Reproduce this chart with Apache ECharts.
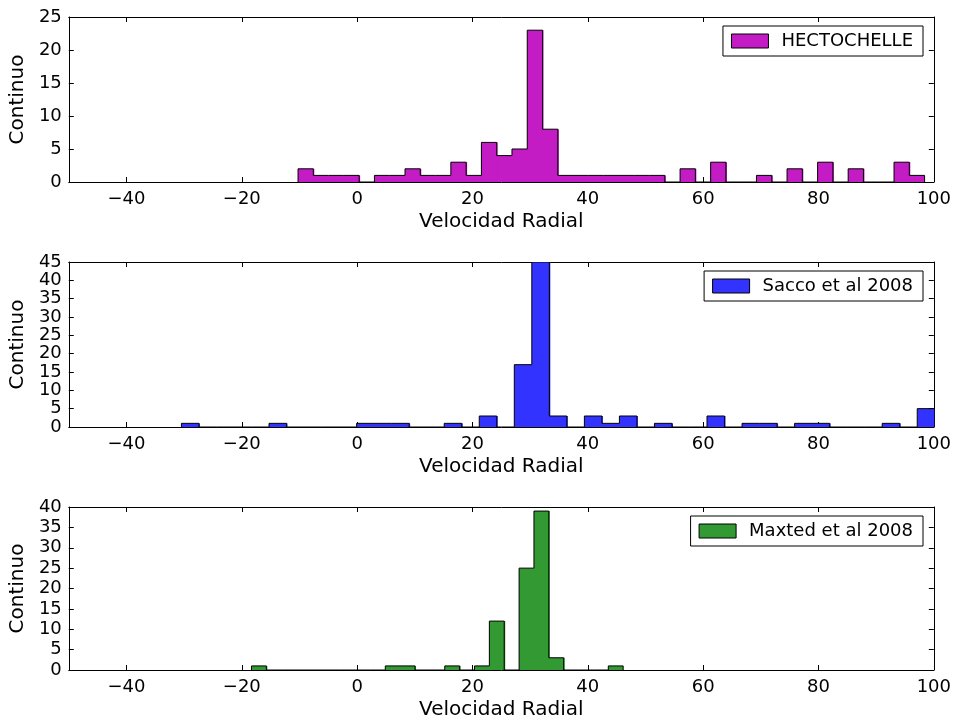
<!DOCTYPE html>
<html>
<head>
<meta charset="utf-8">
<script src="https://cdn.jsdelivr.net/npm/echarts@6/dist/echarts.min.js"></script>
<style>html,body{margin:0;padding:0;background:#fff}#c{width:954px;height:721px}</style>
</head>
<body>
<div id="c"></div>
<script>
// Histogram data (bin start, bin width, counts per bin)
const hectoName = 'HECTOCHELLE';
const hectoStart = -10.25;
const hectoWidth = 2.65;
const hectoCounts = [2,1,1,1,0,1,1,2,1,1,3,1,6,4,5,23,8,1,1,1,1,1,1,1,0,2,0,3,0,0,1,0,2,0,3,0,2,0,0,3,1];

const saccoName = 'Sacco et al 2008';
const saccoStart = -30.47;
const saccoWidth = 3.038;
const saccoCounts = [1,0,0,0,0,1,0,0,0,0,1,1,1,0,0,1,0,3,0,17,45,3,0,3,1,3,0,1,0,0,3,0,1,1,0,1,1,0,0,0,1,0,5];

const maxtedName = 'Maxted et al 2008';
const maxtedStart = -18.32;
const maxtedWidth = 2.578;
const maxtedCounts = [1,0,0,0,0,0,0,0,0,1,1,0,0,1,0,1,12,0,25,39,3,0,0,0,1];

const xTicks = [-40,-20,0,20,40,60,80,100];
const yMax = [25, 45, 40];
const xTitle = 'Velocidad Radial';
const yTitle = 'Continuo';

// [x0, x1, count, previousCount, isLast]
function bins(start, width, counts) {
  return counts.map((c, i) => [start + i*width, start + (i+1)*width, c, i > 0 ? counts[i-1] : 0, i === counts.length-1 ? 1 : 0]);
}

const colors = ['#c41cc4', '#3333ff', '#339933'];
const names = [hectoName, saccoName, maxtedName];
const datas = [bins(hectoStart, hectoWidth, hectoCounts), bins(saccoStart, saccoWidth, saccoCounts), bins(maxtedStart, maxtedWidth, maxtedCounts)];
const tops = [17, 262, 507];
const FONT = 'DejaVu Sans';
const fmtMinus = v => String(v).replace('-', '\u2212');

const grids = [], xAxes = [], yAxes = [], series = [], legends = [];
for (let i = 0; i < 3; i++) {
  grids.push({left: 66, width: 868, top: tops[i], height: 165, containLabel: false});
  const baseX = {gridIndex: i, type: 'value', min: -50, max: 100,
    axisLine: {show: true, onZero: false, lineStyle: {color: '#000', width: 1}},
    axisTick: {show: true, inside: true, length: 5, customValues: xTicks, lineStyle: {color: '#000'}},
    splitLine: {show: false}};
  xAxes.push(Object.assign({}, baseX, {position: 'bottom',
    axisLabel: {show: true, customValues: xTicks, formatter: fmtMinus, color: '#000', fontFamily: FONT, fontSize: 18, margin: 8},
    name: xTitle, nameLocation: 'middle', nameGap: 30,
    nameTextStyle: {color: '#000', fontFamily: FONT, fontSize: 20}}));
  xAxes.push(Object.assign({}, baseX, {position: 'top', axisLabel: {show: false}}));
  const baseY = {gridIndex: i, type: 'value', min: 0, max: yMax[i], interval: 5,
    axisLine: {show: true, onZero: false, lineStyle: {color: '#000', width: 1}},
    axisTick: {show: true, inside: true, length: 5, lineStyle: {color: '#000'}},
    splitLine: {show: false}};
  yAxes.push(Object.assign({}, baseY, {position: 'left',
    axisLabel: {show: true, color: '#000', fontFamily: FONT, fontSize: 18, margin: 7},
    name: yTitle, nameLocation: 'middle', nameGap: 37,
    nameTextStyle: {color: '#000', fontFamily: FONT, fontSize: 20}}));
  yAxes.push(Object.assign({}, baseY, {position: 'right', axisLabel: {show: false}}));
  const col = colors[i];
  series.push({
    type: 'custom', name: names[i], xAxisIndex: 2*i, yAxisIndex: 2*i, clip: true,
    itemStyle: {color: col, borderColor: '#000', borderWidth: 1},
    encode: {x: [0, 1], y: 2},
    data: datas[i],
    renderItem: function (params, api) {
      const x0 = api.value(0), x1 = api.value(1), c = api.value(2), prev = api.value(3), last = api.value(4);
      const pTop0 = api.coord([x0, c]);
      const pBase1 = api.coord([x1, 0]);
      const pPrev = api.coord([x0, prev]);
      const pTop1 = api.coord([x1, c]);
      const pts = [pPrev, pTop0, pTop1];
      if (last) pts.push(pBase1);
      const extra = last ? 0 : 1;
      return {type: 'group', children: [
        {type: 'rect', shape: {x: pTop0[0], y: pTop0[1], width: pBase1[0]-pTop0[0] + extra, height: pBase1[1]-pTop0[1]},
          style: {fill: col, stroke: null, lineWidth: 0}},
        {type: 'polyline', z2: 10, shape: {points: pts}, style: {fill: null, stroke: '#000', lineWidth: 1}}
      ]};
    }
  });
  legends.push({
    right: 31, top: tops[i] + 9, orient: 'vertical',
    data: [{name: names[i], icon: 'rect', itemStyle: {color: col, borderColor: '#000', borderWidth: 1}}],
    itemWidth: 37, itemHeight: 14, itemGap: 0,
    borderColor: '#000', borderWidth: 1, borderRadius: 0, padding: [6, 10, 6, 8],
    backgroundColor: '#fff', selectedMode: false,
    textStyle: {color: '#000', fontFamily: FONT, fontSize: 18, padding: [0, 0, 0, 8]}
  });
}

const chart = echarts.init(document.getElementById('c'), null, {renderer: 'canvas'});
chart.setOption({
  animation: false,
  backgroundColor: '#fff',
  grid: grids, xAxis: xAxes, yAxis: yAxes, series: series, legend: legends
});
</script>
</body>
</html>
